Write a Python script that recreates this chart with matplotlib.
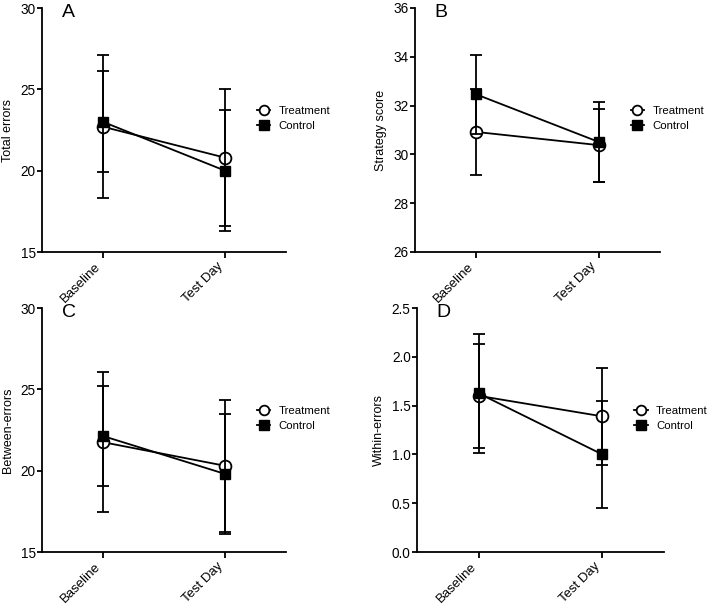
import matplotlib
matplotlib.use("Agg")
import matplotlib.pyplot as plt
import matplotlib.transforms as mtransforms
from matplotlib.ticker import FormatStrFormatter
from matplotlib.lines import Line2D

plt.rcParams['font.family'] = ['Liberation Sans', 'DejaVu Sans']

categories = ["Baseline", "Test Day"]

# Panel A - Total errors
a_treat = [22.7, 20.8]
a_treat_err = [4.4, 4.2]
a_ctrl = [23.0, 20.0]
a_ctrl_err = [3.1, 3.7]

# Panel B - Strategy score
b_treat = [30.92, 30.38]
b_treat_err = [1.75, 1.5]
b_ctrl = [32.46, 30.51]
b_ctrl_err = [1.63, 1.63]

# Panel C - Between-errors
c_treat = [21.75, 20.3]
c_treat_err = [4.3, 4.05]
c_ctrl = [22.13, 19.8]
c_ctrl_err = [3.05, 3.7]

# Panel D - Within-errors
d_treat = [1.6, 1.39]
d_treat_err = [0.53, 0.5]
d_ctrl = [1.625, 1.0]
d_ctrl_err = [0.61, 0.545]

panels = [
    ("A", "Total errors", a_treat, a_treat_err, a_ctrl, a_ctrl_err, (15, 30), [15, 20, 25, 30], "%d"),
    ("B", "Strategy score", b_treat, b_treat_err, b_ctrl, b_ctrl_err, (26, 36), [26, 28, 30, 32, 34, 36], "%d"),
    ("C", "Between-errors", c_treat, c_treat_err, c_ctrl, c_ctrl_err, (15, 30), [15, 20, 25, 30], "%d"),
    ("D", "Within-errors", d_treat, d_treat_err, d_ctrl, d_ctrl_err, (0, 2.5), [0, 0.5, 1.0, 1.5, 2.0, 2.5], "%.1f"),
]

W, H = 709, 605
fig = plt.figure(figsize=(W / 100, H / 100), dpi=100)

# axes boxes in pixels: left, top, right, bottom
boxes = [
    (42, 8, 286, 252),
    (415, 8, 660, 252),
    (42, 308, 286, 552),
    (417, 308, 664, 552),
]

lw = 1.3
x = list(range(len(categories)))
shift = mtransforms.ScaledTranslation(2 / 100, 0, fig.dpi_scale_trans)

for (letter, ylabel, tm, te, cm, ce, ylim, yticks, fmt), (l, t, r, b) in zip(panels, boxes):
    ax = fig.add_axes([l / W, (H - b) / H, (r - l) / W, (b - t) / H])
    ax.errorbar(x, tm, yerr=te, color='black', lw=lw, marker='o', markersize=8.5,
                markerfacecolor='white', markeredgecolor='black', markeredgewidth=1.3,
                capsize=4, capthick=lw, elinewidth=lw, zorder=3)
    ax.errorbar(x, cm, yerr=ce, color='black', lw=lw, marker='s', markersize=7.5,
                markerfacecolor='black', markeredgecolor='black',
                capsize=4, capthick=lw, elinewidth=lw, zorder=4)
    ax.set_xlim(-0.5, 1.5)
    ax.set_ylim(*ylim)
    ax.set_yticks(yticks)
    ax.yaxis.set_major_formatter(FormatStrFormatter(fmt))
    ax.set_xticks(x)
    ax.set_xticklabels(categories, rotation=45, ha='right', va='top', fontsize=9.5)
    for lab in ax.get_xticklabels():
        lab.set_transform(lab.get_transform() + shift)
    ax.tick_params(axis='y', labelsize=9.8, width=lw, length=3.5, pad=1)
    ax.tick_params(axis='x', width=lw, length=4, pad=2)
    for s in ['top', 'right']:
        ax.spines[s].set_visible(False)
    for s in ['left', 'bottom']:
        ax.spines[s].set_linewidth(lw)
    ax.set_ylabel(ylabel, fontsize=9, labelpad=5)
    ax.text(0.08, 0.963, letter, transform=ax.transAxes, fontsize=14, va='baseline', ha='left')
    handles = [
        Line2D([], [], color='black', lw=lw, marker='o', markersize=7,
               markerfacecolor='white', markeredgecolor='black', markeredgewidth=1.3),
        Line2D([], [], color='black', lw=lw, marker='s', markersize=6.5,
               markerfacecolor='black', markeredgecolor='black'),
    ]
    ax.legend(handles, ["Treatment", "Control"], loc='center left', bbox_to_anchor=(0.88, 0.547),
              frameon=False, fontsize=8.2, handlelength=1.2, handletextpad=0.7, borderpad=0,
              borderaxespad=0, labelspacing=0.45)

fig.savefig("out.png", dpi=100)
